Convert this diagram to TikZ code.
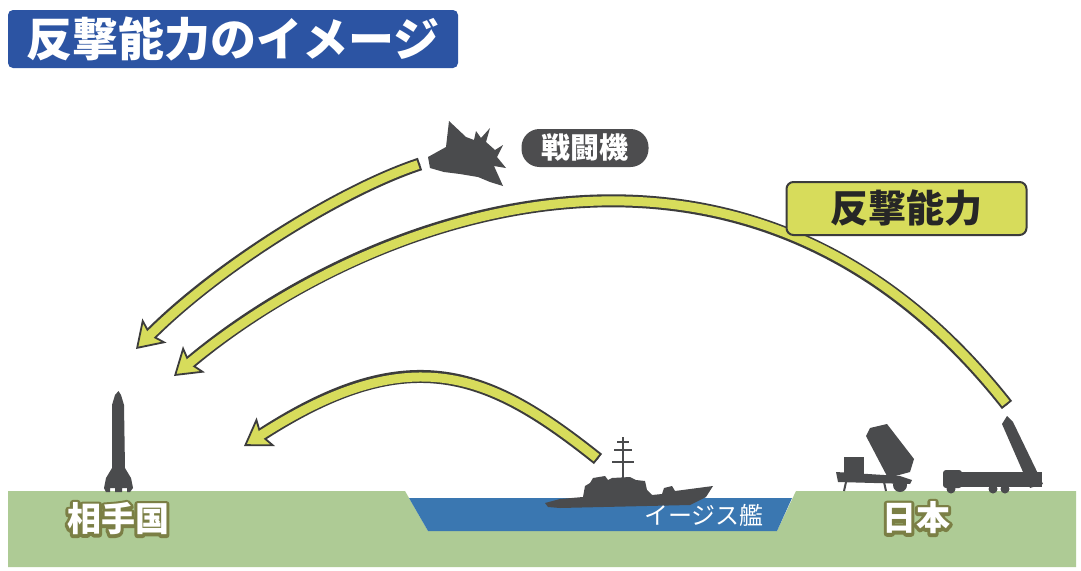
\documentclass[tikz,border=0pt]{standalone}
\usepackage{fontspec}
\newfontfamily\jpfont{Noto Sans CJK JP}
\usetikzlibrary{arrows.meta,calc}

\definecolor{titleblue}{HTML}{2C54A3}
\definecolor{seablue}{HTML}{3A77B1}
\definecolor{fieldgreen}{HTML}{AECB95}
\definecolor{strikeyellow}{HTML}{D7DC5B}
\definecolor{edgegray}{HTML}{3C3C3C}
\definecolor{shapegray}{HTML}{4A4B4D}
\definecolor{pillgray}{HTML}{4D4D4F}
\definecolor{labelolive}{HTML}{7B7F45}

\tikzset{
  silhouette/.style={fill=shapegray},
  arcedge/.style={draw=edgegray, line width=13pt, shorten >=22pt},
  archead/.style={draw=edgegray, line width=1.8pt,
    -{Stealth[length=26pt, width=34pt, inset=5pt, fill=strikeyellow]}},
  arcfill/.style={draw=strikeyellow, line width=9pt, shorten <=2pt, shorten >=16pt},
  placename/.style={font={\jpfont\bfseries\fontsize{34}{36}\selectfont}, text=white},
}

% yellow strike arrow with dark rim: edge, head, then fill on top
\newcommand{\counterarc}[4]{%
  \draw[arcedge] (#1) .. controls (#2) and (#3) .. (#4);
  \draw[archead] (#1) .. controls (#2) and (#3) .. (#4);
  \draw[arcfill] (#1) .. controls (#2) and (#3) .. (#4);
}
% white text with an olive rim (stroked copy underneath)
\newcommand{\rimtext}[1]{%
  \rlap{\textcolor{labelolive}{\special{pdf:literal direct 2 Tr 6 w 1 j}#1\special{pdf:literal direct 0 Tr}}}#1}

\begin{document}
\begin{tikzpicture}[x=1pt, y=-1pt]
\useasboundingbox (0,0) rectangle (1081,570);
\fill[white] (0,0) rectangle (1081,570);

% ground and sea
\fill[fieldgreen] (8,491) -- (405,491) -- (428,531) -- (777,531) -- (796,491)
  -- (1076,491) -- (1076,567) -- (8,567) -- cycle;
\fill[seablue] (409,498) -- (792,498) -- (777,531) -- (428,531) -- cycle;

% title
\node[fill=titleblue, rounded corners=5pt, minimum width=450pt, minimum height=58pt,
  text=white, font={\jpfont\bfseries\fontsize{46}{50}\selectfont}] (title) at (233,39) {反撃能力のイメージ};

% enemy missile
\fill[silhouette] (118.5,391) -- (121,395) -- (124,405) -- (125,468) -- (131,478) -- (133,488)
  -- (130,492) -- (127,492) -- (127,488) -- (122,488) -- (122,492) -- (115,492) -- (115,488)
  -- (110,488) -- (110,492) -- (106,492) -- (104,488) -- (106,478) -- (112,468) -- (112,405)
  -- (115,395) -- cycle;

% fighter
\fill[silhouette] (428,157) -- (446,147) -- (449,121) -- (466,137) -- (474,140) -- (476,131)
  -- (481,138) -- (490,128) -- (486,142) -- (495,150) -- (503,145) -- (497,157) -- (506,168)
  -- (494,166) -- (503,186) -- (490,182) -- (478,177) -- (460,174) -- (444,172) -- (430,168) -- cycle;

% destroyer
\fill[silhouette] (545,503) -- (560,499) -- (583,497) -- (585,486) -- (590,483) -- (593,478)
  -- (605,476) -- (608,480) -- (612,478) -- (630,477) -- (636,480) -- (645,481) -- (647,490)
  -- (652,495) -- (662,494) -- (664,488) -- (672,486) -- (675,491) -- (713,486) -- (706,497)
  -- (690,505) -- (560,508) -- (548,507) -- cycle;
\draw[shapegray, line width=2.5pt] (623,478) -- (623,437);
\draw[shapegray, line width=2pt] (614,450) -- (632,450) (612,462) -- (634,462) (617,442) -- (629,442);

% patriot launcher
\fill[silhouette] (866,436) -- (870,428) -- (887,424) -- (914,459) -- (910,472) -- (888,478) -- cycle;
\fill[silhouette] (844,457) rectangle (864,476);
\fill[silhouette] (836,472) -- (900,476) -- (912,480) -- (910,484) -- (838,482) -- cycle;
\fill[silhouette] (900,485) circle (7);
\draw[shapegray, line width=2pt] (846,482) -- (844,491) (884,482) -- (886,491);

% missile truck
\fill[silhouette] (1007,416) -- (1013,422) -- (1043,484) -- (1030,488) -- (1002,424) -- cycle;
\fill[silhouette, rounded corners=3pt] (943,488) -- (943,470) -- (962,470) -- (962,488) -- cycle;
\fill[silhouette] (960,472) rectangle (1042,487);
\foreach \wx in {951,993,1005} {
  \fill[silhouette] (\wx,489) circle (4.5);
}

% launch and impact points
\coordinate (jettail) at (420,164);
\coordinate (hitair) at (136,349);
\coordinate (launchtop) at (1007,405);
\coordinate (hitland) at (174,376);
\coordinate (shipfire) at (598,459);
\coordinate (hitship) at (244,446);

\counterarc{jettail}{344,189}{221,264}{hitair}
\counterarc{launchtop}{740,66}{360,220}{hitland}
\counterarc{shipfire}{490,373}{411,338}{hitship}

% labels
\node[fill=pillgray, rounded corners=18pt, minimum width=127pt, minimum height=38pt,
  text=white, font={\jpfont\bfseries\fontsize{29}{31}\selectfont}] (fighter) at (585,148) {戦闘機};
\node[draw=edgegray, line width=2pt, fill=strikeyellow, rounded corners=7pt,
  minimum width=240pt, minimum height=53pt, text=black!85,
  font={\jpfont\bfseries\fontsize{38}{40}\selectfont}] (counter) at (906.5,208.5) {反撃能力};
\node[text=white, font={\jpfont\fontsize{24}{26}\selectfont}] (aegis) at (704,515) {イージス艦};
\node[placename] (enemy) at (118,519) {\rimtext{相手国}};
\node[placename] (japan) at (916,518) {\rimtext{日本}};
\end{tikzpicture}
\end{document}
